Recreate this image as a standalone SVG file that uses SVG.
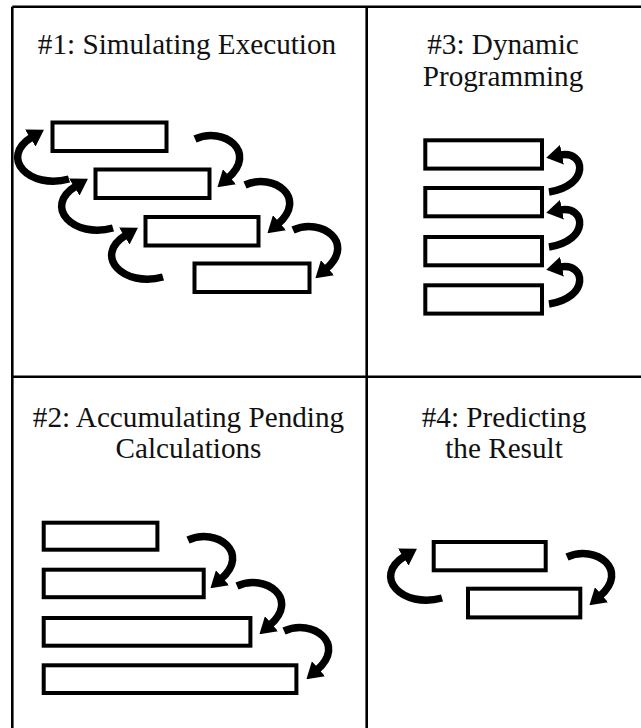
<svg xmlns="http://www.w3.org/2000/svg" width="641" height="728" viewBox="0 0 641 728">
<style>
.grid{stroke:#000;stroke-width:2.6;fill:none}
.box{fill:#fff;stroke:#000;stroke-width:4}
.arr{fill:none;stroke:#000;stroke-width:7.5;marker-end:url(#head)}
.t{font-family:"Liberation Serif","Times New Roman",serif;font-size:29.2px;fill:#111;text-anchor:middle}
</style>
<defs>
<marker id="head" markerUnits="userSpaceOnUse" viewBox="0 0 16 20" markerWidth="16" markerHeight="20" refX="2" refY="10" orient="auto">
<path d="M0,0 L16,10 L0,20 z" fill="#000"/>
</marker>
</defs>
<rect width="641" height="728" fill="#fff"/>
<g id="grid">
<line class="grid" x1="12.3" y1="6.7" x2="641" y2="6.7"/>
<line class="grid" x1="12.3" y1="6.7" x2="12.3" y2="728"/>
<line class="grid" x1="366.7" y1="6.7" x2="366.7" y2="728"/>
<line class="grid" x1="12.3" y1="376.7" x2="641" y2="376.7"/>
</g>
<g id="cell1">
<text class="t" x="187" y="54">#1: Simulating Execution</text>
<g id="c1-r1"><rect class="box" x="52.5" y="122.5" width="114" height="28.5"/></g>
<g id="c1-r2"><rect class="box" x="95.5" y="169.5" width="114" height="28.5"/></g>
<g id="c1-r3"><rect class="box" x="145.5" y="217" width="113" height="28.5"/></g>
<g id="c1-r4"><rect class="box" x="194.5" y="263.5" width="115" height="28.5"/></g>
</g>
<g id="cell3">
<text class="t" x="503" y="54">#3: Dynamic</text>
<text class="t" x="503" y="86">Programming</text>
<g id="c3-r1"><rect class="box" x="425.3" y="140.3" width="116.7" height="28.3"/></g>
<g id="c3-r2"><rect class="box" x="425.3" y="188" width="116.7" height="28.3"/></g>
<g id="c3-r3"><rect class="box" x="425.3" y="237" width="116.7" height="28.3"/></g>
<g id="c3-r4"><rect class="box" x="425.3" y="285.3" width="116.7" height="28.3"/></g>
</g>
<g id="cell2">
<text class="t" x="188.5" y="426.7">#2: Accumulating Pending</text>
<text class="t" x="188.5" y="458.3">Calculations</text>
<g id="c2-r1"><rect class="box" x="43.7" y="522.7" width="113.7" height="27"/></g>
<g id="c2-r2"><rect class="box" x="43.7" y="569.7" width="160" height="27.5"/></g>
<g id="c2-r3"><rect class="box" x="43.7" y="618" width="206.7" height="27.7"/></g>
<g id="c2-r4"><rect class="box" x="43.7" y="665.3" width="252.7" height="27.7"/></g>
</g>
<g id="cell4">
<text class="t" x="504" y="426.7">#4: Predicting</text>
<text class="t" x="504" y="458.3">the Result</text>
<g id="c4-r1"><rect class="box" x="433.7" y="542" width="112" height="28.3"/></g>
<g id="c4-r2"><rect class="box" x="468" y="588.7" width="112.3" height="28.7"/></g>
</g>
<g id="connectors">
<path class="arr" d="M195,139 C224,126 258,152 228,178"/>
<path class="arr" d="M245,185 C274,172 308,198 278,224"/>
<path class="arr" d="M293,230 C322,217 356,243 326,269"/>
<path class="arr" d="M69,179 C30,190 -2,158 32,137"/>
<path class="arr" d="M113,228 C74,239 42,207 76,186"/>
<path class="arr" d="M163,277 C124,288 92,256 126,235"/>
<path class="arr" d="M549,192 C590,186 586,150 560,155"/>
<path class="arr" d="M549,247 C590,241 586,205 560,210"/>
<path class="arr" d="M549,304 C590,298 586,262 560,267"/>
<path class="arr" d="M188,540 C217,527 251,553 221,579"/>
<path class="arr" d="M237,586 C266,573 300,599 270,625"/>
<path class="arr" d="M284,631 C313,618 347,644 317,670"/>
<path class="arr" d="M442,598 C403,609 371,577 405,556"/>
<path class="arr" d="M567,557 C596,544 630,570 600,596"/>
</g>
</svg>
